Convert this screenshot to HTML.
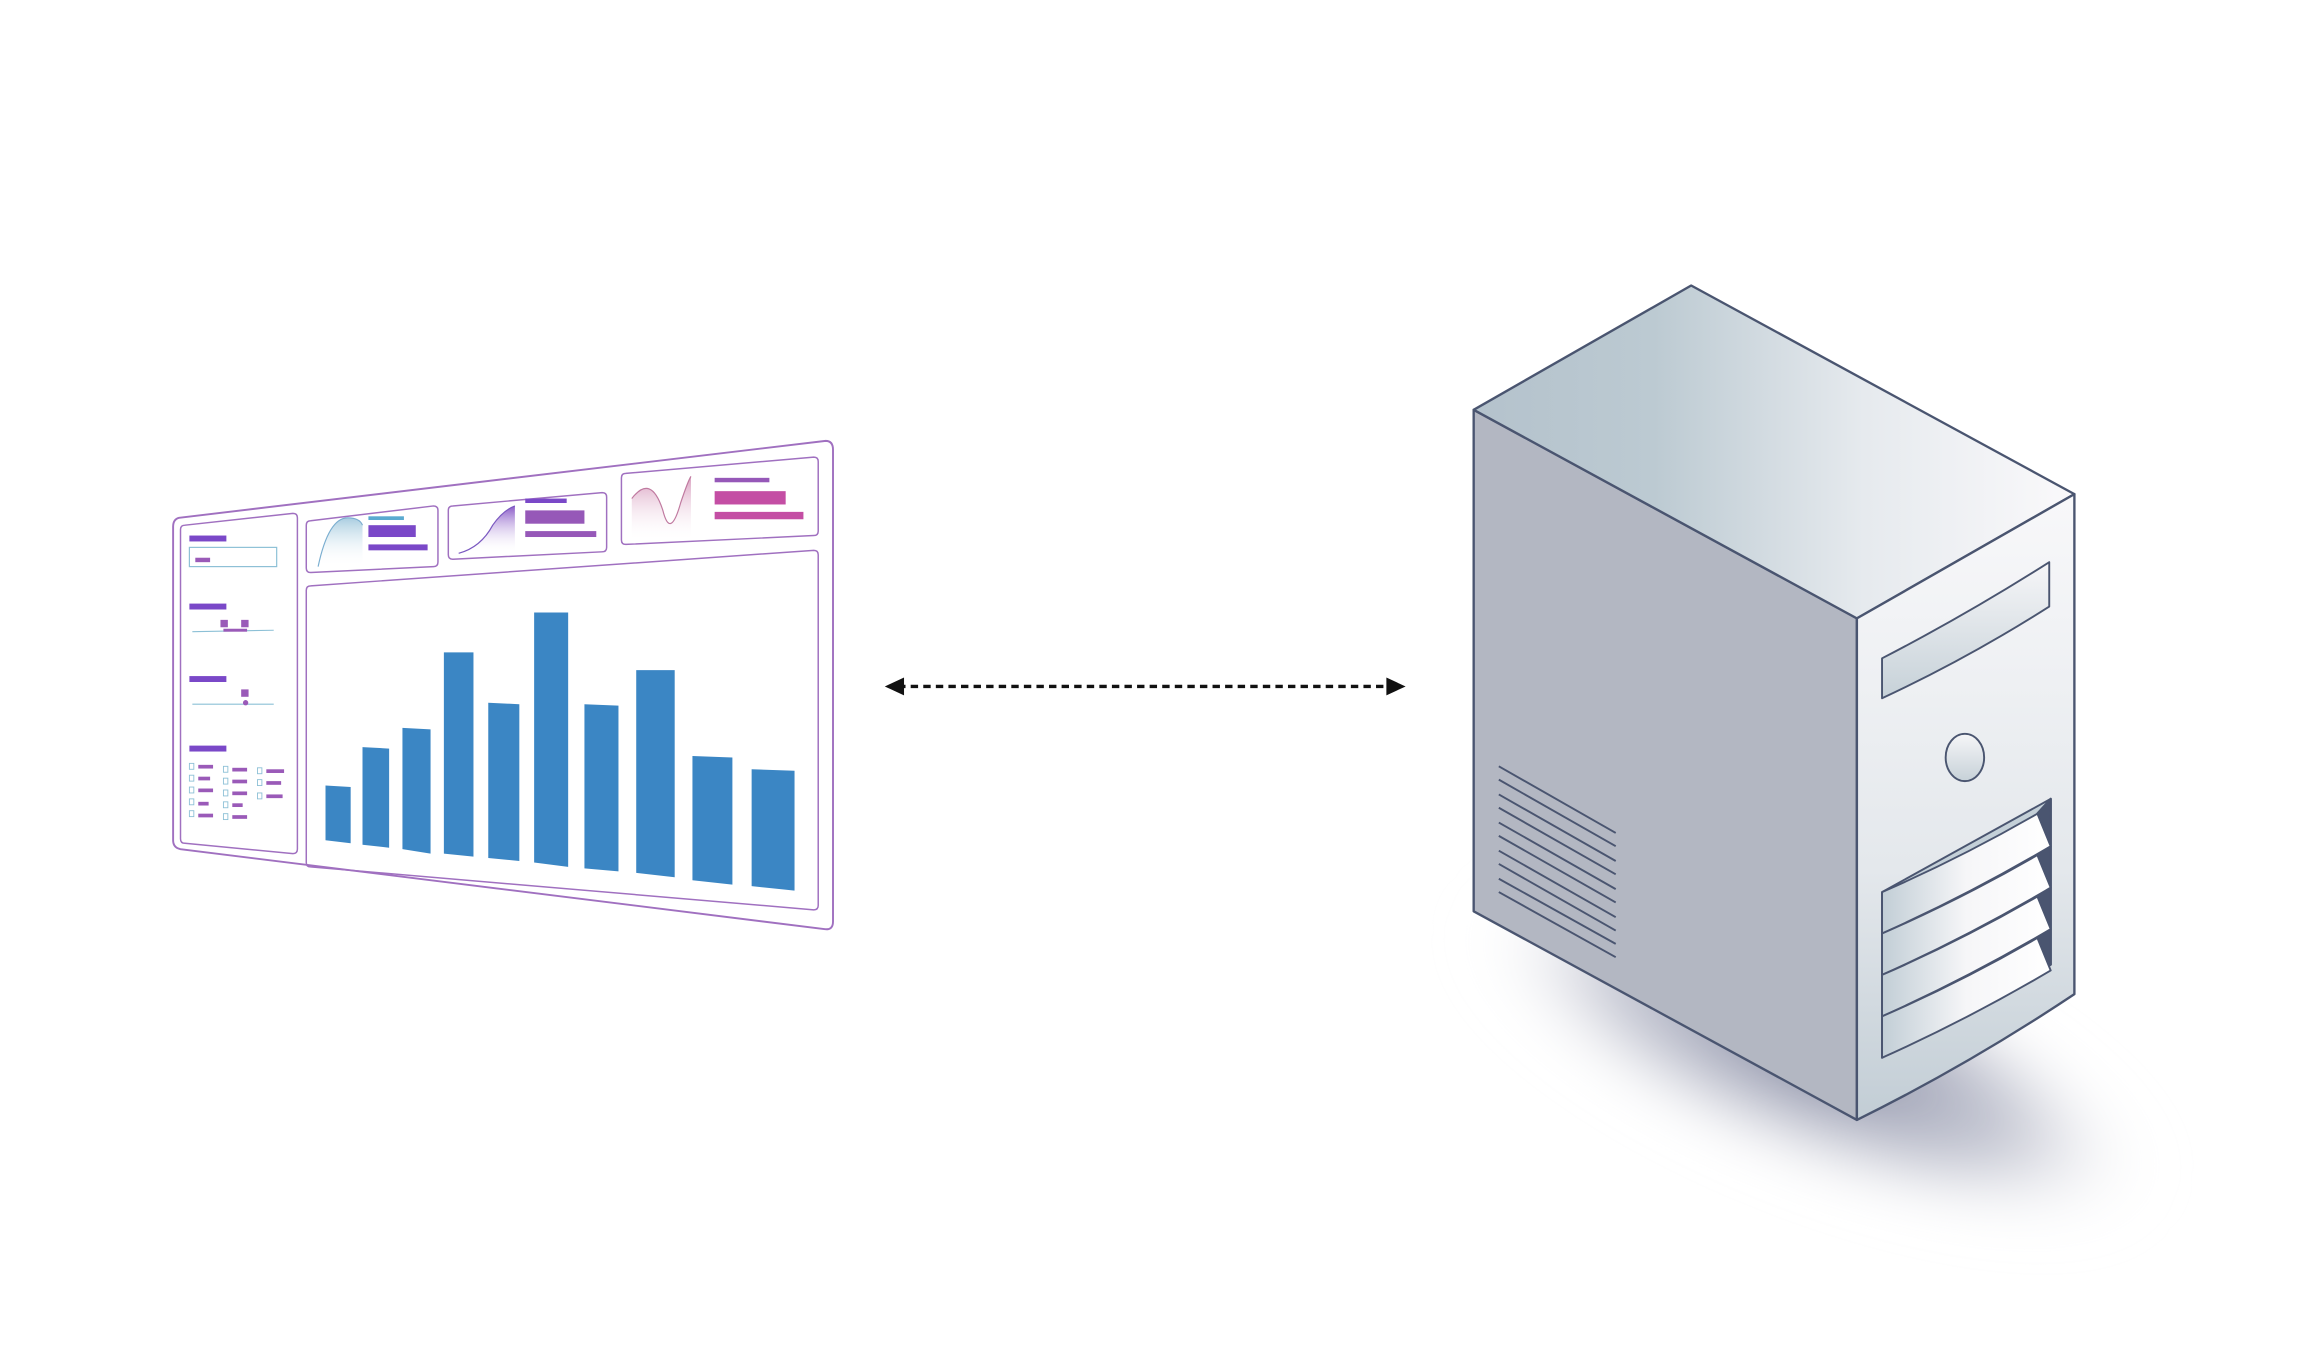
<!DOCTYPE html>
<html><head><meta charset="utf-8"><style>
html,body{margin:0;padding:0;background:#fff;}
svg{display:block;}
</style></head><body>
<svg width="2320" height="1364" viewBox="0 0 1568 922" preserveAspectRatio="none" xmlns="http://www.w3.org/2000/svg">
<defs>
<linearGradient id="top" x1="0" y1="0" x2="1" y2="0">
<stop offset="0" stop-color="#b4c2cc"/><stop offset="0.3" stop-color="#bccad2"/><stop offset="0.65" stop-color="#e6eaee"/><stop offset="1" stop-color="#faf9fb"/></linearGradient>
<linearGradient id="front" x1="0" y1="0" x2="0" y2="1">
<stop offset="0" stop-color="#f8f8fa"/><stop offset="0.6" stop-color="#e4e8ec"/><stop offset="1" stop-color="#c2cdd5"/></linearGradient>
<linearGradient id="slat" x1="0" y1="0" x2="1" y2="0">
<stop offset="0" stop-color="#c2ced6"/><stop offset="0.5" stop-color="#f6f6f8"/><stop offset="1" stop-color="#ffffff"/></linearGradient>
<linearGradient id="slot" x1="0" y1="0" x2="0" y2="1">
<stop offset="0" stop-color="#f6f6f8"/><stop offset="1" stop-color="#c6d1d8"/></linearGradient>
<radialGradient id="shadow" cx="0.5" cy="0.5" r="0.5"><stop offset="0" stop-color="#7a7f98" stop-opacity="0.95"/><stop offset="0.6" stop-color="#9498ae" stop-opacity="0.5"/><stop offset="1" stop-color="#fff" stop-opacity="0"/></radialGradient>
<linearGradient id="c1" x1="0" y1="0" x2="0" y2="1"><stop offset="0" stop-color="#a9cde0"/><stop offset="1" stop-color="#fff" stop-opacity="0"/></linearGradient>
<linearGradient id="c2" x1="0" y1="0" x2="0" y2="1"><stop offset="0" stop-color="#8a5ac8"/><stop offset="1" stop-color="#fff" stop-opacity="0"/></linearGradient>
<linearGradient id="c3" x1="0" y1="0" x2="0" y2="1"><stop offset="0" stop-color="#d9a0c0"/><stop offset="1" stop-color="#fff" stop-opacity="0"/></linearGradient>
<filter id="blur" x="-50%" y="-50%" width="200%" height="200%"><feGaussianBlur stdDeviation="18"/></filter>
</defs>

<!-- Dashboard -->
<g fill="none" stroke="#a070c0" stroke-width="1.3">
<path d="M121 350 L558 298 Q563 298 563 304 L563 623 Q563 629 557 628 L122 574 Q117 573 117 568 L117 356 Q117 351 121 350Z"/>
<path d="M125 355 L198 347 Q201 347 201 350 L201 574 Q201 577 198 577 L125 570 Q122 570 122 567 L122 358 Q122 355 125 355Z" stroke-width="1"/>
<path d="M210 352 L293 342 Q296 342 296 345 L296 380 Q296 383 293 383 L210 387 Q207 387 207 384 L207 355 Q207 352 210 352Z" stroke-width="1"/>
<path d="M306 342 L407 333 Q410 333 410 336 L410 370 Q410 373 407 373 L306 378 Q303 378 303 375 L303 345 Q303 342 306 342Z" stroke-width="1"/>
<path d="M423 320 L550 309 Q553 309 553 312 L553 359 Q553 362 550 362 L423 368 Q420 368 420 365 L420 323 Q420 320 423 320Z" stroke-width="1"/>
<path d="M210 396 L550 372 Q553 372 553 375 L553 612 Q553 615 550 615 L210 586 Q207 586 207 583 L207 399 Q207 396 210 396Z" stroke-width="1"/>
</g>
<g fill="#7a48c8">
<rect x="128" y="362" width="25" height="4"/>
<rect x="128" y="408" width="25" height="4"/>
<rect x="128" y="457" width="25" height="4"/>
<rect x="128" y="504" width="25" height="4"/>
</g>
<rect x="128" y="370" width="59" height="13" fill="none" stroke="#8cc0d6" stroke-width="0.8"/>
<rect x="132" y="377" width="10" height="3" fill="#9a5ab8"/>
<g stroke="#8cc0d6" stroke-width="0.7"><line x1="130" y1="427" x2="185" y2="426"/><line x1="130" y1="476" x2="185" y2="476"/></g>
<g fill="#9a5ab8"><rect x="149" y="419" width="5" height="5"/><rect x="163" y="419" width="5" height="5"/><rect x="151" y="425" width="16" height="2"/><rect x="163" y="466" width="5" height="5"/><circle cx="166" cy="475" r="1.8"/></g>
<g fill="#9a5ab8">
<rect x="134" y="517" width="10" height="2.5"/><rect x="134" y="525" width="8" height="2.5"/><rect x="134" y="533" width="10" height="2.5"/><rect x="134" y="542" width="7" height="2.5"/><rect x="134" y="550" width="10" height="2.5"/>
<rect x="157" y="519" width="10" height="2.5"/><rect x="157" y="527" width="10" height="2.5"/><rect x="157" y="535" width="10" height="2.5"/><rect x="157" y="543" width="7" height="2.5"/><rect x="157" y="551" width="10" height="2.5"/>
<rect x="180" y="520" width="12" height="2.5"/><rect x="180" y="528" width="10" height="2.5"/><rect x="180" y="537" width="11" height="2.5"/>
</g>
<g fill="none" stroke="#8cc0d6" stroke-width="0.6">
<rect x="128" y="516" width="3" height="4"/><rect x="128" y="524" width="3" height="4"/><rect x="128" y="532" width="3" height="4"/><rect x="128" y="540" width="3" height="4"/><rect x="128" y="548" width="3" height="4"/>
<rect x="151" y="518" width="3" height="4"/><rect x="151" y="526" width="3" height="4"/><rect x="151" y="534" width="3" height="4"/><rect x="151" y="542" width="3" height="4"/><rect x="151" y="550" width="3" height="4"/>
<rect x="174" y="519" width="3" height="4"/><rect x="174" y="527" width="3" height="4"/><rect x="174" y="536" width="3" height="4"/>
</g>
<path d="M215 383 Q222 350 235 350 Q243 350 245 355 L245 382 Z" fill="url(#c1)"/>
<path d="M215 383 Q222 350 235 350 Q243 350 245 355" fill="none" stroke="#7aaed0" stroke-width="0.8"/>
<g fill="#7a48c8"><rect x="249" y="355" width="32" height="8"/><rect x="249" y="368" width="40" height="4"/></g>
<rect x="249" y="349" width="24" height="2.5" fill="#5aaad0"/>
<path d="M310 374 Q325 370 333 355 Q340 345 348 342 L348 372 Z" fill="url(#c2)"/>
<path d="M310 374 Q325 370 333 355 Q340 345 348 342" fill="none" stroke="#7a58c0" stroke-width="0.8"/>
<g fill="#9658b8"><rect x="355" y="345" width="40" height="9"/><rect x="355" y="359" width="48" height="4"/></g>
<rect x="355" y="337" width="28" height="3" fill="#7a48c8"/>
<path d="M427 337 Q440 320 448 345 Q453 365 460 340 Q465 325 467 322 L467 366 L427 366 Z" fill="url(#c3)"/>
<path d="M427 337 Q440 320 448 345 Q453 365 460 340 Q465 325 467 322" fill="none" stroke="#c07aa0" stroke-width="0.8"/>
<g fill="#c44ea4"><rect x="483" y="332" width="48" height="9"/><rect x="483" y="346" width="60" height="5"/></g>
<rect x="483" y="323" width="37" height="3" fill="#9658b8"/>
<g fill="#3b86c4">
<polygon points="220,531 237,532 237,570 220,568"/>
<polygon points="245,505 263,506 263,573 245,571"/>
<polygon points="272,492 291,493 291,577 272,574"/>
<polygon points="300,441 320,441 320,579 300,577"/>
<polygon points="330,475 351,476 351,582 330,580"/>
<polygon points="361,414 384,414 384,586 361,583"/>
<polygon points="395,476 418,477 418,589 395,587"/>
<polygon points="430,453 456,453 456,593 430,590"/>
<polygon points="468,511 495,512 495,598 468,595"/>
<polygon points="508,520 537,521 537,602 508,599"/>
</g>

<line x1="607" y1="464" x2="940" y2="464" stroke="#111" stroke-width="2.2" stroke-dasharray="5,3.5"/>
<polygon points="598,464 611,458 611,470" fill="#111"/>
<polygon points="950,464 937,458 937,470" fill="#111"/>

<ellipse cx="1225" cy="712" rx="250" ry="80" fill="url(#shadow)" filter="url(#blur)" transform="rotate(22 1225 712)"/>
<g stroke="#4a5570" stroke-width="1.6" stroke-linejoin="round">
<polygon points="996,277 1255,418 1255,757 996,616" fill="#b3b7c2"/>
<path d="M1143 193 L1402 334 Q1330 375 1255 418 L996 277 Z" fill="url(#top)"/>
<path d="M1255 418 Q1330 375 1402 334 L1402 672 Q1330 720 1255 757 Z" fill="url(#front)"/>
<path d="M1272 445 Q1330 415 1385 380 L1385 410 Q1330 445 1272 472 Z" fill="url(#slot)" stroke-width="1.3"/>
<ellipse cx="1328" cy="512" rx="13" ry="16" fill="url(#slot)" stroke-width="1.3"/>
<polygon points="1272,603 1386,540 1386,652 1272,715" fill="#c4d0d8" stroke-width="1.3"/>
<polygon points="1377,550 1386,540 1386,652 1377,658" fill="#4a5570"/>
<path d="M1272 631 Q1330 605 1386 572 L1377 550 Q1325 580 1272 603 Z" fill="url(#slat)" stroke-width="1.3"/>
<path d="M1272 659 Q1330 633 1386 600 L1377 578 Q1325 608 1272 631 Z" fill="url(#slat)" stroke-width="1.3"/>
<path d="M1272 687 Q1330 661 1386 628 L1377 606 Q1325 636 1272 659 Z" fill="url(#slat)" stroke-width="1.3"/>
<path d="M1272 715 Q1330 689 1386 656 L1377 634 Q1325 664 1272 687 Z" fill="url(#slat)" stroke-width="1.3"/>
</g>
<g stroke="#4a5570" stroke-width="1.3">
<line x1="1013" y1="518" x2="1092" y2="563"/>
<line x1="1013" y1="527" x2="1092" y2="572"/>
<line x1="1013" y1="537" x2="1092" y2="582"/>
<line x1="1013" y1="546" x2="1092" y2="591"/>
<line x1="1013" y1="556" x2="1092" y2="601"/>
<line x1="1013" y1="565" x2="1092" y2="610"/>
<line x1="1013" y1="575" x2="1092" y2="620"/>
<line x1="1013" y1="584" x2="1092" y2="629"/>
<line x1="1013" y1="594" x2="1092" y2="638"/>
<line x1="1013" y1="603" x2="1092" y2="647"/>
</g>
</svg>
</body></html>
